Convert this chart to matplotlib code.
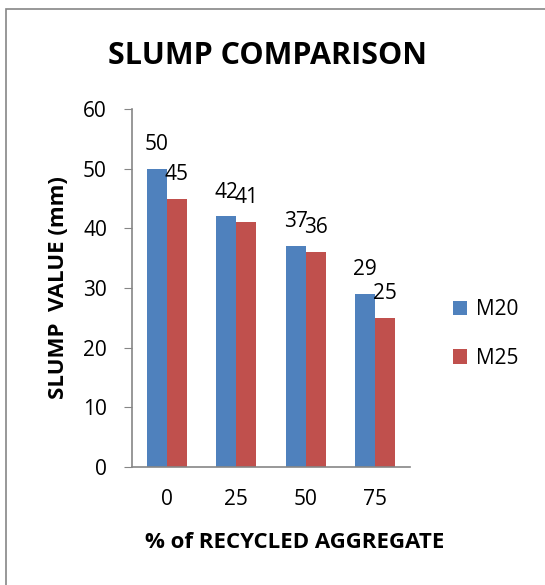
import matplotlib.pyplot as plt
import numpy as np
from matplotlib.patches import Rectangle

categories = ['0', '25', '50', '75']
m20 = [50, 42, 37, 29]
m25 = [45, 41, 36, 25]
yticks = [0, 10, 20, 30, 40, 50, 60]

plt.rcParams['font.family'] = ['Open Sans', 'DejaVu Sans']

W, H = 545, 585
fig = plt.figure(figsize=(W / 100, H / 100), dpi=100)

# axes box in pixels: x 132..410, y 109..467
ax = fig.add_axes([132 / W, 1 - 467 / H, (410 - 132) / W, (467 - 109) / H])

x = np.arange(len(categories))
bw = 0.288
b1 = ax.bar(x - bw / 2, m20, bw, color='#4f81bd', label='M20')
b2 = ax.bar(x + bw / 2, m25, bw, color='#c0504d', label='M25')
ax.bar_label(b1, padding=10, fontsize=15)
ax.bar_label(b2, padding=10, fontsize=15)

ax.set_xlim(-0.5, 3.5)
ax.set_ylim(0, 60)
ax.set_yticks(yticks)
ax.set_xticks(x)
ax.set_xticklabels(categories)
ax.tick_params(axis='y', labelsize=15, length=6, color='#868686', pad=12)
ax.tick_params(axis='x', labelsize=15, length=0, pad=16)
for s in ['top', 'right']:
    ax.spines[s].set_visible(False)
for s in ['left', 'bottom']:
    ax.spines[s].set_color('#868686')
    ax.spines[s].set_linewidth(1.2)

fig.text(58 / W, 1 - 288 / H, 'SLUMP  VALUE (mm)', rotation=90, fontsize=16,
         fontweight='bold', ha='center', va='center')
fig.text(295 / W, 1 - 543 / H, '% of RECYCLED AGGREGATE', fontsize=16,
         fontweight='bold', ha='center', va='center')
fig.text(267 / W, 1 - 56 / H, 'SLUMP COMPARISON', fontsize=22,
         fontweight='bold', ha='center', va='center')

fig.legend(handles=[b1, b2], loc='center left', bbox_to_anchor=(434 / W, 1 - 334 / H),
           frameon=False, fontsize=15, handlelength=0.7, handleheight=0.7,
           labelspacing=1.3, handletextpad=0.4)

fig.patches.append(Rectangle((6 / W, -0.1), 1.2, 1 - 9 / H + 0.1, transform=fig.transFigure,
                             fill=False, edgecolor='#868686', linewidth=1.2))

fig.savefig('out.png', dpi=100)
